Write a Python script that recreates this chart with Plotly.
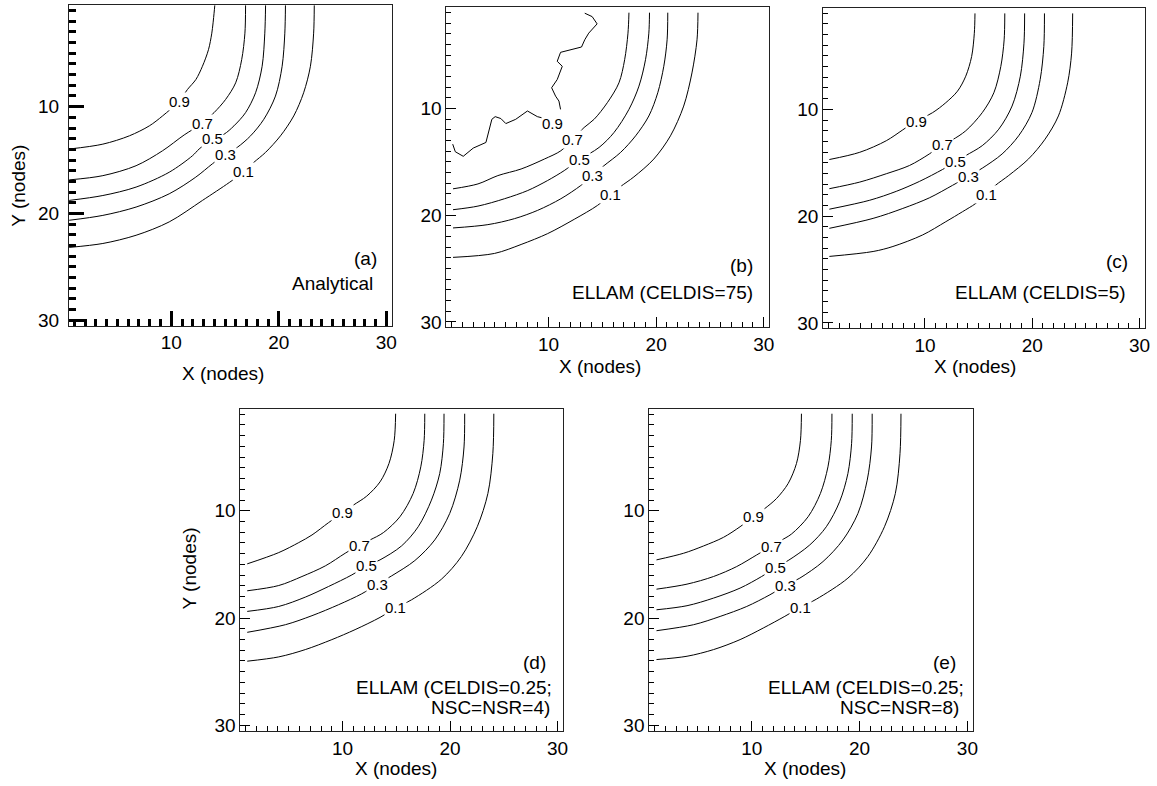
import plotly.graph_objects as go

FONT = "Liberation Sans, Arial, sans-serif"
LEVELS = ["0.9", "0.7", "0.5", "0.3", "0.1"]

# ---------------- Panel (a) Analytical ----------------
A09_X = [14.05, 13.98, 13.77, 13.46, 12.9, 12.29, 11.51, 10.74, 9.19, 7.96, 6.11, 3.64, 0.5]
A09_Y = [0.5, 1.26, 3.12, 4.67, 6.22, 7.46, 8.39, 9.48, 10.87, 11.8, 12.73, 13.51, 13.97]
A07_X = [16.91, 16.85, 16.55, 15.99, 15.06, 13.98, 12.9, 11.2, 9.19, 6.73, 3.64, 0.5]
A07_Y = [0.5, 3.12, 5.6, 7.77, 9.32, 10.56, 11.55, 12.65, 14.13, 15.53, 16.46, 16.86]
A05_X = [18.77, 18.7, 18.45, 17.84, 16.91, 15.83, 14.91, 13.86, 12.59, 11.97, 9.81, 6.73, 3.64, 0.5]
A05_Y = [0.5, 3.12, 6.22, 8.7, 10.56, 11.8, 12.58, 13.0, 13.97, 14.6, 16.14, 17.53, 18.32, 18.78]
A03_X = [20.62, 20.56, 20.31, 19.69, 18.61, 17.38, 16.14, 15.06, 13.83, 12.28, 9.81, 6.73, 3.64, 0.5]
A03_Y = [0.5, 3.12, 6.22, 9.01, 11.18, 12.73, 13.81, 14.44, 15.35, 16.6, 18.16, 19.4, 20.18, 20.64]
A01_X = [23.3, 23.24, 22.94, 22.31, 21.39, 20.16, 18.77, 17.69, 16.76, 15.4, 12.9, 9.81, 6.73, 3.64, 0.5]
A01_Y = [0.5, 3.12, 6.22, 8.7, 10.87, 12.73, 14.28, 15.21, 16.1, 17.1, 18.78, 20.79, 22.04, 22.81, 23.18]
A_LAB_X = [10.74, 12.9, 13.86, 15.06, 16.76]
A_LAB_Y = [9.48, 11.55, 13.0, 14.44, 16.1]

# ---------------- Panel (b) ELLAM CELDIS=75 ----------------
B09_X = [13.36, 14.05, 14.51, 13.73, 13.36, 13.06, 11.11, 10.8, 11.27, 10.8, 10.28, 10.65, 10.96, 11.11, None,
         9.42, 8.95, 8.03, 6.94, 6.02, 5.56, 5.03, 4.72, 4.17, 2.99, 2.06, 1.32, 1.08]
B09_Y = [1.05, 1.37, 2.05, 2.92, 3.54, 4.22, 4.72, 5.56, 6.03, 7.27, 8.04, 8.83, 9.29, 10.07, None,
         10.87, 10.75, 10.22, 11.0, 11.4, 10.93, 10.75, 11.0, 13.17, 13.7, 14.47, 14.04, 13.33]
B07_X = [17.47, 17.38, 17.07, 16.54, 15.46, 14.23, 13.3, 12.22, 11.14, 9.6, 7.44, 5.28, 3.43, 1.11]
B07_Y = [1.0, 2.92, 5.41, 7.58, 9.44, 11.0, 11.77, 12.9, 13.95, 14.73, 15.66, 16.28, 17.06, 17.52]
B05_X = [19.38, 19.32, 19.01, 18.4, 17.47, 16.08, 14.69, 12.84, 11.45, 9.91, 8.06, 5.9, 3.43, 1.11]
B05_Y = [1.0, 2.92, 5.41, 7.89, 10.07, 12.24, 13.64, 14.8, 15.81, 16.74, 17.68, 18.45, 19.14, 19.48]
B03_X = [21.08, 21.02, 20.71, 20.15, 19.32, 18.09, 16.7, 15.15, 14.07, 12.99, 11.14, 8.98, 6.82, 4.35, 1.11]
B03_Y = [1.0, 3.54, 6.03, 8.51, 10.69, 12.55, 14.1, 15.35, 16.28, 17.21, 18.45, 19.54, 20.32, 20.88, 21.19]
B01_X = [23.89, 23.8, 23.33, 22.56, 21.33, 19.78, 17.93, 16.7, 15.77, 14.54, 12.38, 9.91, 7.44, 4.97, 1.11]
B01_Y = [1.0, 3.54, 6.65, 9.76, 12.55, 14.73, 16.4, 17.3, 18.05, 19.08, 20.38, 21.72, 22.74, 23.58, 23.95]
B_LAB_X = [10.34, 12.22, 12.84, 14.07, 15.77]
B_LAB_Y = [11.37, 12.9, 14.8, 16.28, 18.05]

# ---------------- Panel (c) ELLAM CELDIS=5 ----------------
C09_X = [14.66, 14.6, 14.35, 13.8, 13.03, 11.94, 10.71, 9.17, 7.93, 6.39, 3.92, 1.08]
C09_Y = [1.02, 2.88, 5.05, 6.9, 8.3, 9.38, 10.31, 11.1, 11.92, 12.94, 14.02, 14.7]
C07_X = [17.44, 17.38, 17.07, 16.42, 15.34, 13.8, 12.56, 11.64, 10.4, 8.55, 6.39, 3.92, 1.08]
C07_Y = [1.02, 3.5, 5.98, 8.45, 10.31, 12.01, 12.85, 13.3, 14.18, 15.26, 16.03, 16.81, 17.43]
C05_X = [19.29, 19.23, 18.89, 18.12, 16.88, 15.34, 13.8, 12.87, 11.64, 9.48, 7.32, 4.85, 1.08]
C05_Y = [1.02, 3.81, 6.9, 9.69, 11.86, 13.4, 14.33, 14.9, 15.63, 16.75, 17.68, 18.51, 19.35]
C03_X = [21.14, 21.08, 20.74, 19.97, 18.73, 17.19, 15.34, 14.1, 12.56, 10.4, 7.93, 5.16, 1.08]
C03_Y = [1.02, 4.12, 7.21, 10.31, 12.48, 14.18, 15.51, 16.25, 17.12, 18.29, 19.28, 20.21, 21.14]
C01_X = [23.77, 23.67, 23.3, 22.44, 21.2, 19.66, 17.81, 16.57, 15.74, 14.72, 13.49, 11.94, 9.78, 7.01, 5.16, 1.08]
C01_Y = [1.02, 4.74, 7.52, 10.62, 12.79, 14.64, 16.19, 17.12, 17.95, 18.82, 19.59, 20.52, 21.76, 22.84, 23.31, 23.77]
C_LAB_X = [9.17, 11.64, 12.87, 14.1, 15.74]
C_LAB_Y = [11.1, 13.3, 14.9, 16.25, 17.95]

# ---------------- Panel (d) ELLAM CELDIS=0.25; NSC=NSR=4 ----------------
D09_X = [14.94, 14.81, 14.32, 13.49, 12.25, 11.02, 10.0, 8.7, 7.16, 5.93, 4.07, 1.14]
D09_Y = [0.96, 3.44, 5.6, 7.31, 8.64, 9.47, 10.2, 11.11, 12.26, 12.97, 13.9, 14.95]
D07_X = [17.65, 17.59, 17.28, 16.57, 15.34, 13.8, 12.56, 11.54, 10.25, 8.4, 6.23, 4.07, 1.14]
D07_Y = [0.96, 3.44, 5.91, 8.39, 10.56, 12.04, 12.72, 13.2, 13.96, 15.14, 16.13, 16.97, 17.46]
D05_X = [19.44, 19.38, 19.04, 18.27, 17.04, 15.49, 13.49, 12.25, 10.87, 8.7, 6.54, 4.07, 1.14]
D05_Y = [0.96, 3.75, 6.53, 9.01, 11.49, 13.28, 14.58, 15.15, 15.98, 17.06, 18.05, 18.92, 19.38]
D03_X = [21.36, 21.3, 20.9, 19.97, 18.58, 16.73, 14.57, 13.24, 11.79, 9.63, 7.16, 4.69, 1.14]
D03_Y = [0.96, 4.06, 7.15, 10.25, 12.72, 14.64, 16.07, 16.85, 17.74, 18.76, 19.78, 20.62, 21.33]
D01_X = [24.07, 23.98, 23.52, 22.53, 21.05, 19.2, 16.42, 14.94, 13.49, 11.17, 9.01, 6.54, 4.07, 1.14]
D01_Y = [0.96, 4.68, 8.39, 11.49, 14.27, 16.38, 18.3, 19.05, 19.94, 21.08, 22.01, 22.94, 23.62, 24.02]
D_LAB_X = [10.0, 11.54, 12.25, 13.24, 14.94]
D_LAB_Y = [10.2, 13.2, 15.15, 16.85, 19.05]

# ---------------- Panel (e) ELLAM CELDIS=0.25; NSC=NSR=8 ----------------
E09_X = [14.61, 14.52, 14.15, 13.38, 12.31, 11.23, 10.21, 8.92, 7.38, 5.54, 3.69, 1.17]
E09_Y = [0.96, 3.44, 5.6, 7.46, 8.85, 9.78, 10.5, 11.49, 12.48, 13.28, 13.96, 14.58]
E07_X = [17.44, 17.38, 17.07, 16.37, 15.23, 13.69, 12.68, 11.84, 10.46, 8.61, 6.46, 4.0, 1.17]
E07_Y = [0.96, 3.44, 5.91, 8.39, 10.56, 12.17, 12.79, 13.3, 14.12, 15.2, 16.13, 16.84, 17.31]
E05_X = [19.32, 19.26, 18.92, 18.15, 16.92, 15.38, 13.38, 12.21, 10.92, 8.92, 6.46, 4.0, 1.17]
E05_Y = [0.96, 3.75, 6.53, 9.16, 11.49, 13.19, 14.64, 15.3, 16.13, 17.21, 18.14, 18.85, 19.23]
E03_X = [21.17, 21.11, 20.71, 19.85, 18.46, 16.61, 14.46, 13.17, 11.69, 9.54, 7.07, 4.61, 1.17]
E03_Y = [0.96, 4.06, 7.15, 10.25, 12.72, 14.74, 16.28, 16.95, 17.83, 18.92, 19.85, 20.62, 21.18]
E01_X = [23.84, 23.75, 23.32, 22.31, 20.77, 18.92, 16.0, 14.52, 13.07, 11.07, 8.92, 6.46, 4.0, 1.17]
E01_Y = [0.96, 4.68, 8.39, 11.49, 14.27, 16.28, 18.24, 19.0, 19.84, 20.93, 22.01, 22.94, 23.56, 23.87]
E_LAB_X = [10.21, 11.84, 12.21, 13.17, 14.52]
E_LAB_Y = [10.5, 13.3, 15.3, 16.95, 19.0]

PANEL_TEXT = {
    "a": ["(a)", "Analytical"],
    "b": ["(b)", "ELLAM (CELDIS=75)"],
    "c": ["(c)", "ELLAM (CELDIS=5)"],
    "d": ["(d)", "ELLAM (CELDIS=0.25;", "NSC=NSR=4)"],
    "e": ["(e)", "ELLAM (CELDIS=0.25;", "NSC=NSR=8)"],
}

panels = {
    "a": dict(ax="", curves=[(A09_X, A09_Y), (A07_X, A07_Y), (A05_X, A05_Y), (A03_X, A03_Y), (A01_X, A01_Y)],
              lab=(A_LAB_X, A_LAB_Y), jag=False, thick=True,
              dom_x=[0.05998, 0.34002], dom_y=[0.58308, 0.99338],
              txt_x=[29.3, 28.95], txt_y=[24.2, 26.6]),
    "b": dict(ax="2", curves=[(B09_X, B09_Y), (B07_X, B07_Y), (B05_X, B05_Y), (B03_X, B03_Y), (B01_X, B01_Y)],
              lab=(B_LAB_X, B_LAB_Y), jag=True, thick=False,
              dom_x=[0.38756, 0.66759], dom_y=[0.58104, 0.99059],
              txt_x=[29.2, 29.2], txt_y=[24.67, 27.24]),
    "c": dict(ax="3", curves=[(C09_X, C09_Y), (C07_X, C07_Y), (C05_X, C05_Y), (C03_X, C03_Y), (C01_X, C01_Y)],
              lab=(C_LAB_X, C_LAB_Y), jag=False, thick=False,
              dom_x=[0.71452, 0.99378], dom_y=[0.57964, 0.98995],
              txt_x=[29.13, 28.97], txt_y=[24.26, 27.14]),
    "d": dict(ax="4", curves=[(D09_X, D09_Y), (D07_X, D07_Y), (D05_X, D05_Y), (D03_X, D03_Y), (D01_X, D01_Y)],
              lab=(D_LAB_X, D_LAB_Y), jag=False, thick=False,
              dom_x=[0.20864, 0.48868], dom_y=[0.06438, 0.47659],
              txt_x=[29.14, 29.63, 29.47], txt_y=[24.14, 26.45, 28.3]),
    "e": dict(ax="5", curves=[(E09_X, E09_Y), (E07_X, E07_Y), (E05_X, E05_Y), (E03_X, E03_Y), (E01_X, E01_Y)],
              lab=(E_LAB_X, E_LAB_Y), jag=False, thick=False,
              dom_x=[0.56361, 0.84443], dom_y=[0.06438, 0.47659],
              txt_x=[29.14, 29.85, 29.39], txt_y=[24.14, 26.45, 28.3]),
}

fig = go.Figure()
annotations = []
layout = {}

for key, p in panels.items():
    ax = p["ax"]
    xr, yr = "x" + ax, "y" + ax
    for i, (cx, cy) in enumerate(p["curves"]):
        jag = p["jag"] and i == 0
        fig.add_trace(go.Scatter(
            x=cx, y=cy, mode="lines", xaxis=xr, yaxis=yr,
            line=dict(color="black", width=1, shape="linear" if jag else "spline",
                      smoothing=0 if jag else 0.9),
            showlegend=False, hoverinfo="skip"))
    lx, ly = p["lab"]
    for t, xv, yv in zip(LEVELS, lx, ly):
        annotations.append(dict(x=xv, y=yv, xref=xr, yref=yr, text=t, showarrow=False,
                                font=dict(family=FONT, size=15, color="black"),
                                bgcolor="white", borderpad=0))
    for j, t in enumerate(PANEL_TEXT[key]):
        annotations.append(dict(x=p["txt_x"][j], y=p["txt_y"][j], xref=xr, yref=yr, text=t,
                                showarrow=False, xanchor="right", yanchor="middle",
                                font=dict(family=FONT, size=19, color="black")))
    tw = 3 if p["thick"] else 1
    for name, dom, rng, anc in (("xaxis" + ax, p["dom_x"], [0.5, 30.5], yr),
                                ("yaxis" + ax, p["dom_y"], [30.5, 0.5], xr)):
        ad = dict(showline=True, linecolor="#222", linewidth=1, mirror=True,
                  ticks="inside", tickwidth=tw, ticklen=15 if p["thick"] else 10,
                  tickcolor="#000000", tickmode="linear", tick0=0, dtick=10,
                  minor=dict(ticks="inside", ticklen=7 if p["thick"] else 5, tickwidth=tw,
                             tickmode="linear", tick0=0, dtick=1, tickcolor="#000000"),
                  showgrid=False, zeroline=False, domain=dom, range=rng, anchor=anc,
                  tickfont=dict(family=FONT, size=19, color="black"))
        if name.startswith("yaxis") and p["thick"]:
            ad["ticksuffix"] = " "
        layout[name] = ad

# axis titles
TITLE_POS = [("X (nodes)", 0.1936, 0.5216, 0), ("Y (nodes)", 0.0164, 0.7621, -90),
             ("X (nodes)", 0.5212, 0.5305, 0), ("X (nodes)", 0.8462, 0.5305, 0),
             ("X (nodes)", 0.344, 0.0165, 0), ("Y (nodes)", 0.1642, 0.2723, -90),
             ("X (nodes)", 0.6984, 0.0165, 0)]
for t, xv, yv, ang in TITLE_POS:
    annotations.append(dict(x=xv, y=yv, xref="paper", yref="paper", text=t, showarrow=False,
                            textangle=ang, xanchor="center", yanchor="middle",
                            font=dict(family=FONT, size=19, color="black")))

fig.update_layout(**layout)
fig.update_layout(width=1157, height=786, autosize=False,
                  margin=dict(l=0, r=0, t=0, b=0),
                  paper_bgcolor="white", plot_bgcolor="white",
                  annotations=annotations, showlegend=False)

fig.write_html("out.html")
